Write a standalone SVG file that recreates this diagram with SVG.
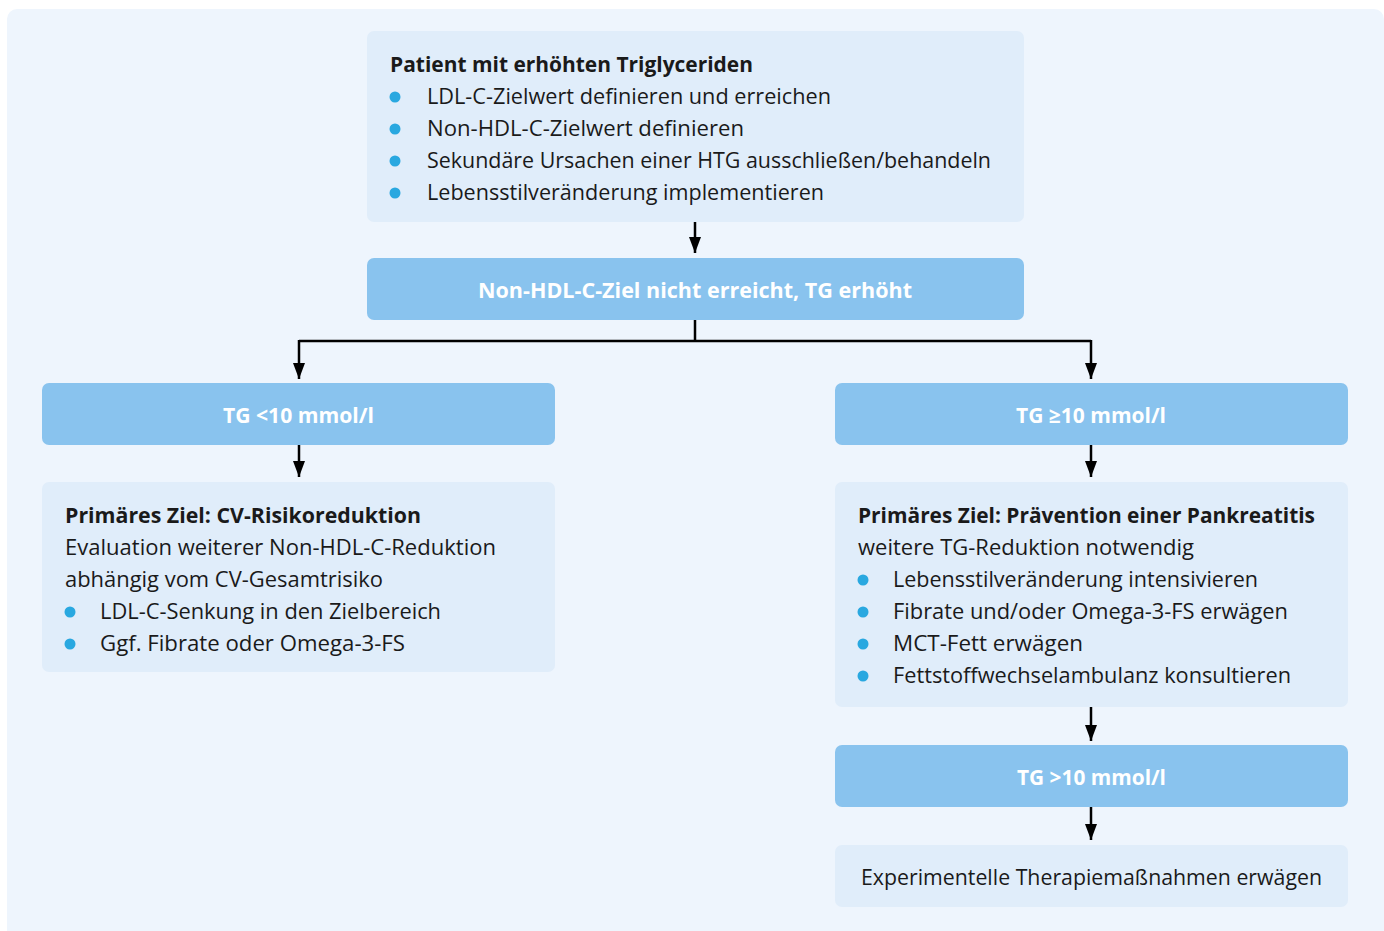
<svg xmlns="http://www.w3.org/2000/svg" width="1384" height="931" viewBox="0 0 1384 931">
<defs>
<style>
.bg{fill:#eef5fd}
.lt{fill:#e0edfa}
.dk{fill:#89c3ee}
text{font-family:"Open Sans","Liberation Sans",sans-serif;font-size:21px;fill:#1a1a1a}
.b{font-weight:bold}
.w{fill:#ffffff;font-weight:bold}
.dot{fill:#29a8e0}
.con{fill:none;stroke:#000;stroke-width:2.5}
</style>
<marker id="ah" markerWidth="16" markerHeight="12" refX="16" refY="6" orient="auto" markerUnits="userSpaceOnUse" viewBox="0 0 16 12">
<path d="M0,0 L16,6 L0,12 Z" fill="#000"/>
</marker>
</defs>
<rect class="bg" x="7" y="9" width="1377" height="940" rx="10"/>
<g id="connectors">
<path class="con" d="M695,222 V253" marker-end="url(#ah)"/>
<line class="con" x1="695" y1="320" x2="695" y2="341"/>
<path class="con" d="M299,341 H1091"/>
<path class="con" d="M299,340 V379" marker-end="url(#ah)"/>
<path class="con" d="M1091,340 V379" marker-end="url(#ah)"/>
<path class="con" d="M299,445 V477" marker-end="url(#ah)"/>
<path class="con" d="M1091,445 V477" marker-end="url(#ah)"/>
<path class="con" d="M1091,707 V741" marker-end="url(#ah)"/>
<path class="con" d="M1091,807 V840" marker-end="url(#ah)"/>
</g>
<g id="n1">
<rect class="lt" x="367" y="31" width="657" height="191" rx="7"/>
<text class="b" x="390" y="72" textLength="363" lengthAdjust="spacingAndGlyphs">Patient mit erhöhten Triglyceriden</text>
<circle class="dot" cx="395" cy="97" r="5.5"/>
<text x="427" y="104" textLength="404" lengthAdjust="spacingAndGlyphs">LDL-C-Zielwert definieren und erreichen</text>
<circle class="dot" cx="395" cy="129" r="5.5"/>
<text x="427" y="136" textLength="317" lengthAdjust="spacingAndGlyphs">Non-HDL-C-Zielwert definieren</text>
<circle class="dot" cx="395" cy="161" r="5.5"/>
<text x="427" y="168" textLength="564" lengthAdjust="spacingAndGlyphs">Sekundäre Ursachen einer HTG ausschließen/behandeln</text>
<circle class="dot" cx="395" cy="193" r="5.5"/>
<text x="427" y="200" textLength="397" lengthAdjust="spacingAndGlyphs">Lebensstilveränderung implementieren</text>
</g>
<g id="n2">
<rect class="dk" x="367" y="258" width="657" height="62" rx="7"/>
<text class="w" x="478" y="298" textLength="434" lengthAdjust="spacingAndGlyphs">Non-HDL-C-Ziel nicht erreicht, TG erhöht</text>
</g>
<g id="n3">
<rect class="dk" x="42" y="383" width="513" height="62" rx="7"/>
<text class="w" x="223" y="423" textLength="151" lengthAdjust="spacingAndGlyphs">TG &lt;10 mmol/l</text>
</g>
<g id="n4">
<rect class="lt" x="42" y="482" width="513" height="190" rx="7"/>
<text class="b" x="65" y="523" textLength="356" lengthAdjust="spacingAndGlyphs">Primäres Ziel: CV-Risikoreduktion</text>
<text x="65" y="555" textLength="431" lengthAdjust="spacingAndGlyphs">Evaluation weiterer Non-HDL-C-Reduktion</text>
<text x="65" y="587" textLength="318" lengthAdjust="spacingAndGlyphs">abhängig vom CV-Gesamtrisiko</text>
<circle class="dot" cx="70" cy="612" r="5.5"/>
<text x="100" y="619" textLength="341" lengthAdjust="spacingAndGlyphs">LDL-C-Senkung in den Zielbereich</text>
<circle class="dot" cx="70" cy="644" r="5.5"/>
<text x="100" y="651" textLength="305" lengthAdjust="spacingAndGlyphs">Ggf. Fibrate oder Omega-3-FS</text>
</g>
<g id="n5">
<rect class="dk" x="835" y="383" width="513" height="62" rx="7"/>
<text class="w" x="1016" y="423" textLength="150" lengthAdjust="spacingAndGlyphs">TG ≥10 mmol/l</text>
</g>
<g id="n6">
<rect class="lt" x="835" y="482" width="513" height="225" rx="7"/>
<text class="b" x="858" y="523" textLength="457" lengthAdjust="spacingAndGlyphs">Primäres Ziel: Prävention einer Pankreatitis</text>
<text x="858" y="555" textLength="336" lengthAdjust="spacingAndGlyphs">weitere TG-Reduktion notwendig</text>
<circle class="dot" cx="863" cy="580" r="5.5"/>
<text x="893" y="587" textLength="365" lengthAdjust="spacingAndGlyphs">Lebensstilveränderung intensivieren</text>
<circle class="dot" cx="863" cy="612" r="5.5"/>
<text x="893" y="619" textLength="395" lengthAdjust="spacingAndGlyphs">Fibrate und/oder Omega-3-FS erwägen</text>
<circle class="dot" cx="863" cy="644" r="5.5"/>
<text x="893" y="651" textLength="190" lengthAdjust="spacingAndGlyphs">MCT-Fett erwägen</text>
<circle class="dot" cx="863" cy="676" r="5.5"/>
<text x="893" y="683" textLength="398" lengthAdjust="spacingAndGlyphs">Fettstoffwechselambulanz konsultieren</text>
</g>
<g id="n7">
<rect class="dk" x="835" y="745" width="513" height="62" rx="7"/>
<text class="w" x="1017" y="785" textLength="149" lengthAdjust="spacingAndGlyphs">TG &gt;10 mmol/l</text>
</g>
<g id="n8">
<rect class="lt" x="835" y="845" width="513" height="62" rx="7"/>
<text x="861" y="885" textLength="461" lengthAdjust="spacingAndGlyphs">Experimentelle Therapiemaßnahmen erwägen</text>
</g>
</svg>
